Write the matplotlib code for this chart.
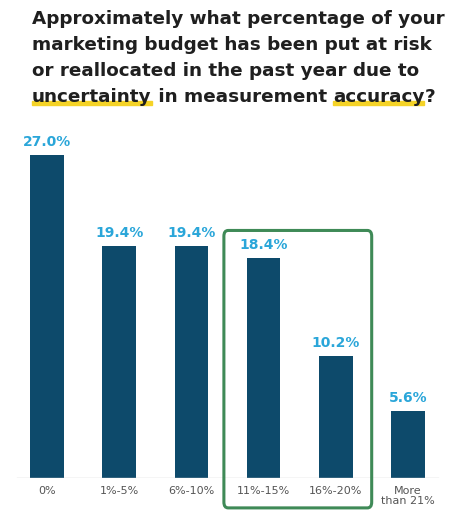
import matplotlib
matplotlib.use("Agg")
import matplotlib.pyplot as plt
from matplotlib.patches import FancyBboxPatch, Rectangle

categories = ["0%", "1%-5%", "6%-10%", "11%-15%", "16%-20%", "More\nthan 21%"]
values = [27.0, 19.4, 19.4, 18.4, 10.2, 5.6]
title_lines = ["Approximately what percentage of your",
               "marketing budget has been put at risk",
               "or reallocated in the past year due to"]
last_line = [("uncertainty", True), (" in measurement ", False), ("accuracy", True), ("?", False)]

BAR = "#0d4a6b"
LABEL = "#2aa6d9"
TITLE = "#1f1f1f"
HL = "#f5d327"

fig = plt.figure(figsize=(4.59, 5.18), dpi=100)
fig.patch.set_facecolor("white")
ax = fig.add_axes([4/459, 40/518, 447/459, 348/518])
x = list(range(len(values)))
ax.bar(x, values, width=0.47, color=BAR, zorder=2)
for xi, v in zip(x, values):
    ax.text(xi, v + 0.5, f"{v:.1f}%", ha="center", va="bottom", color=LABEL,
            fontsize=10, fontweight="bold")
ax.set_xlim(-0.6, 5.6)
ax.set_ylim(0, 29.1)
ax.axhline(0, xmin=0.03, xmax=0.97, color="#cccccc", lw=1)
for s in ax.spines.values():
    s.set_visible(False)
ax.set_yticks([])
ax.set_xticks(x)
ax.set_xticklabels(categories, fontsize=8, color="#555555", linespacing=0.95)
ax.tick_params(axis="x", length=0, pad=6)

box = FancyBboxPatch((2.45, -2.5), 2.05, 23.2, boxstyle="round,pad=0,rounding_size=0.06",
                     fill=False, edgecolor="#3f8a57", lw=2.2, clip_on=False, zorder=3,
                     mutation_aspect=8)
ax.add_patch(box)

fs = 13.2
y0 = 1 - 10/518
for i, line in enumerate(title_lines):
    fig.text(32/459, y0 - i * 26/518, line, fontsize=fs, fontweight="bold", color=TITLE,
             va="top", ha="left")
fig.canvas.draw()
r = fig.canvas.get_renderer()
xpos = 32
ytop = y0 - 3 * 26/518
for txt, hl in last_line:
    t = fig.text(xpos/459, ytop, txt, fontsize=fs, fontweight="bold", color=TITLE,
                 va="top", ha="left", zorder=3)
    bb = t.get_window_extent(r)
    if hl:
        fig.patches.append(Rectangle((bb.x0/459, bb.y0/518 + 1/518), bb.width/459, 4/518,
                                     transform=fig.transFigure, color=HL, zorder=1))
    xpos += bb.width

fig.savefig("out.png", dpi=100, facecolor="white")
